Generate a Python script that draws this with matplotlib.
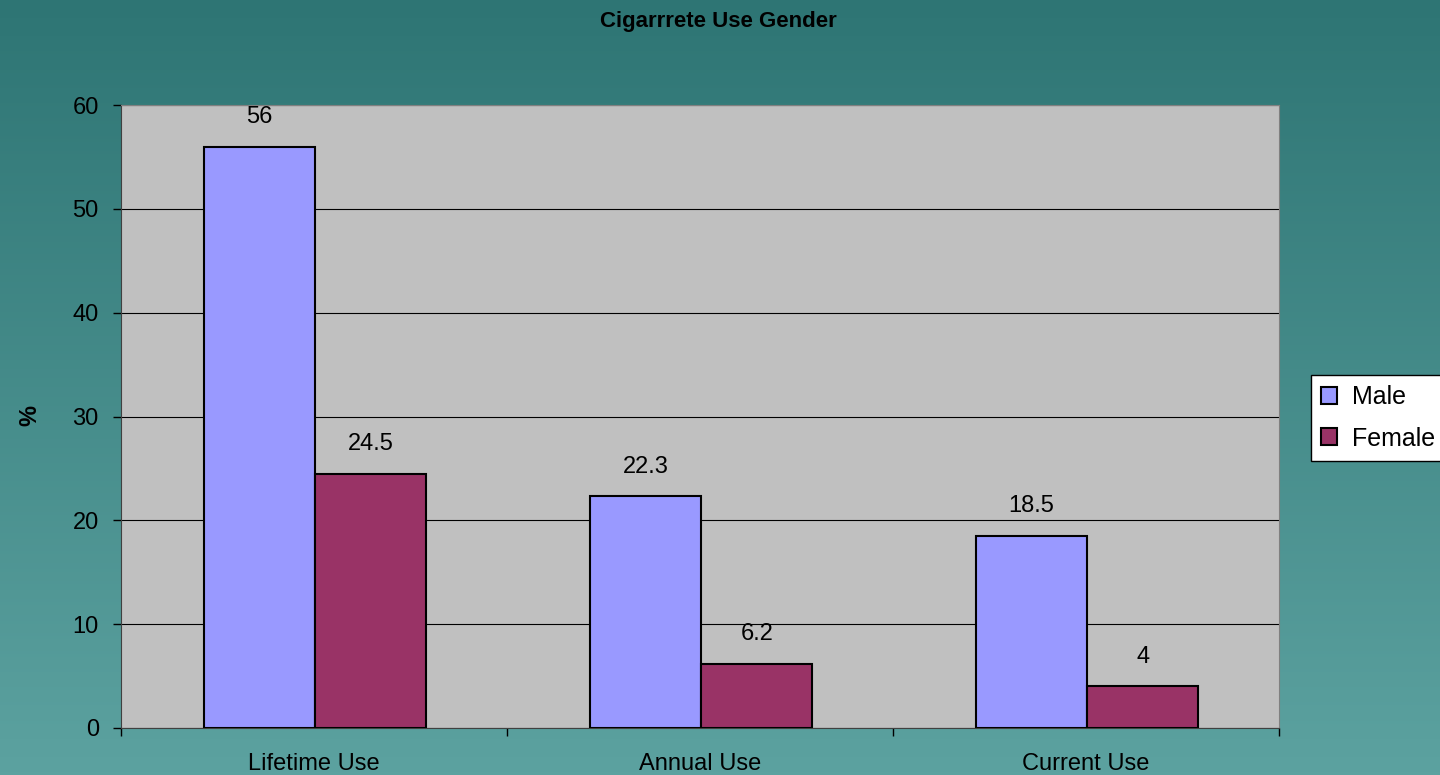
import matplotlib
matplotlib.use('Agg')
import matplotlib.pyplot as plt
import numpy as np

plt.rcParams['font.family'] = ['Liberation Sans', 'DejaVu Sans']

categories = ['Lifetime Use', 'Annual Use', 'Current Use']
male = [56, 22.3, 18.5]
female = [24.5, 6.2, 4]
yticks = [0, 10, 20, 30, 40, 50, 60]

fig = plt.figure(figsize=(14.4, 7.75), dpi=100)

# teal gradient background
bg = fig.add_axes([0, 0, 1, 1], zorder=-10)
top = np.array([46, 117, 116]) / 255
bottom = np.array([92, 162, 160]) / 255
t = np.linspace(0, 1, 256)[:, None]
grad = top * (1 - t)[:, :, None] + bottom * t[:, :, None]
bg.imshow(grad, aspect='auto', extent=[0, 1, 0, 1])
bg.axis('off')

ax = fig.add_axes([121 / 1440, 1 - 728 / 775, (1279 - 121) / 1440, (728 - 105) / 775])
ax.set_facecolor('#C0C0C0')

x = np.arange(len(categories))
w = 0.288
b1 = ax.bar(x - w / 2 + 0.003, male, w, color='#9999FF', edgecolor='black', linewidth=1.5, label='Male', zorder=3)
b2 = ax.bar(x + w / 2 + 0.003, female, w, color='#993366', edgecolor='black', linewidth=1.5, label='Female', zorder=3)

for bars, vals in ((b1, male), (b2, female)):
    for r, v in zip(bars, vals):
        ax.text(r.get_x() + r.get_width() / 2, v + 1.8, '%g' % v, ha='center', va='bottom', fontsize=17)

ax.set_xlim(-0.5, 2.5)
ax.set_ylim(0, 60)
ax.set_yticks(yticks)
ax.tick_params(axis='y', labelsize=17, length=6, direction='out', width=1, colors='black', pad=10)
ax.yaxis.grid(True, color='black', linewidth=0.8, zorder=0)
ax.set_axisbelow(True)

# category labels between boundary ticks
ax.set_xticks([-0.5, 0.5, 1.5, 2.5])
ax.set_xticklabels([])
ax.set_xticks(x, minor=True)
ax.set_xticklabels(categories, minor=True, fontsize=17)
ax.tick_params(axis='x', which='major', length=6, width=1)
ax.tick_params(axis='x', which='minor', length=0, pad=18)

for s in ['top', 'right']:
    ax.spines[s].set_color('#808080')
for s in ['left', 'bottom']:
    ax.spines[s].set_color('#404040')

fig.text(30 / 1440, 1 - 415 / 775, '%', rotation=90, fontsize=17, fontweight='bold', ha='center', va='center')
fig.text(718 / 1440, 1 - 21 / 775, 'Cigarrrete Use Gender', fontsize=16, fontweight='bold', ha='center', va='center')

leg = fig.legend(loc='upper left', bbox_to_anchor=(1311 / 1440, 1 - 375 / 775), fontsize=18,
                 frameon=True, fancybox=False, edgecolor='black', framealpha=1,
                 handlelength=0.65, handleheight=0.65, handletextpad=0.6, labelspacing=0.7,
                 borderpad=0.4, borderaxespad=0)
leg.get_frame().set_linewidth(1)

fig.savefig('out.png', dpi=100)
